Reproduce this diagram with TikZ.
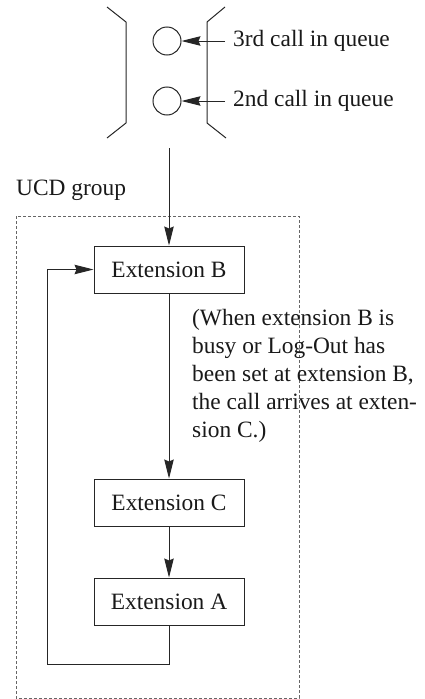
\documentclass[tikz,border=0pt]{standalone}
\usepackage{fontspec}
\setmainfont{Liberation Serif}
\usetikzlibrary{arrows.meta}
\begin{document}
\begin{tikzpicture}[x=1pt,y=-1pt,
  every node/.style={font=\fontsize{23.4}{28}\selectfont, text=black!90},
  line/.style={draw=black!85, line width=1pt},
  arr/.style={line, -{Stealth[length=19pt,width=9.5pt,inset=2pt]}},
  extbox/.style={line, rectangle, minimum width=150pt, minimum height=47pt, inner sep=0pt},
  queuecall/.style={line, circle, minimum size=28pt, inner sep=0pt},
  grp/.style={draw=black!60, line width=0.8pt, dash pattern=on 3pt off 2pt}]
\useasboundingbox (0,0) rectangle (424,699);
% queue brackets
\draw[line] (107,7) -- (126,22) -- (126,123) -- (107,138);
\draw[line] (225,7) -- (207,22) -- (207,123) -- (226,138);
% calls in queue
\node[queuecall] (c3) at (167,41) {};
\node[queuecall] (c2) at (167,101) {};
\node[anchor=west, inner xsep=8pt] (t3) at (225,41) {3rd call in queue};
\node[anchor=west, inner xsep=8pt] (t2) at (225,101) {2nd call in queue};
\draw[arr] (t3.west) -- (c3.east);
\draw[arr] (t2.west) -- (c2.east);
% UCD group
\node[anchor=base west, inner sep=0pt] (ucd) at (16,195) {UCD group};
\draw[grp] (16,216) rectangle (299,698);
% extensions
\node[extbox] (B) at (169,269.5) {Extension B};
\node[extbox] (C) at (169,502.5) {Extension C};
\node[extbox] (A) at (169,601.5) {Extension A};
\coordinate (qin) at (169,148);
\coordinate (lc) at (47,664);
\draw[arr] (qin) -- (B.north);
\draw[arr] (B.south) -- (C.north);
\draw[arr] (C.south) -- (A.north);
\draw[arr] (A.south) |- (lc) |- (B.west);
% note
\node[anchor=north west, inner sep=0pt, align=left] (note) at (192,309)
  {(When extension B is\\busy or Log-Out has\\been set at extension B,\\the call arrives at exten-\\sion C.)};
\end{tikzpicture}
\end{document}
